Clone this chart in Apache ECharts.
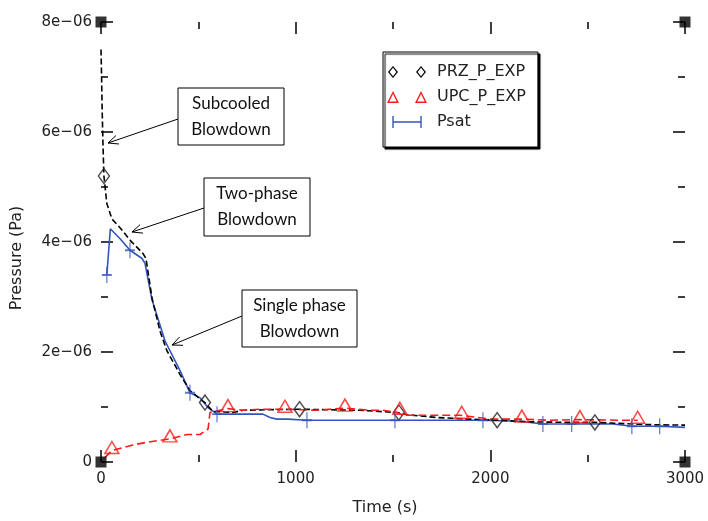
<!DOCTYPE html>
<html>
<head>
<meta charset="utf-8">
<script src="https://cdn.jsdelivr.net/npm/echarts@6/dist/echarts.min.js"></script>
<style>html,body{margin:0;padding:0;background:#fff;}#c{width:708px;height:521px;}</style>
</head>
<body>
<div id="c"></div>
<script>
// ---- data ----
const xTickLabels = ['0', '1000', '2000', '3000'];
const yTickLabels = ['0', '2e\u221206', '4e\u221206', '6e\u221206', '8e\u221206'];

const przTime = [0, 3, 6, 10, 15, 30, 56, 100, 150, 216, 231, 262, 303, 339, 406, 457, 518, 534, 575, 678, 730, 850, 1020, 1160, 1330, 1520, 1570, 1720, 1895, 2033, 2203, 2400, 2537, 2800, 3000];
const przP = [7.5e6, 7.0e6, 6.4e6, 5.8e6, 5.2e6, 4.7e6, 4.42e6, 4.25e6, 4.03e6, 3.79e6, 3.7e6, 2.98e6, 2.38e6, 2.02e6, 1.59e6, 1.30e6, 1.12e6, 1.08e6, 0.92e6, 0.90e6, 0.94e6, 0.95e6, 0.96e6, 0.95e6, 0.94e6, 0.90e6, 0.86e6, 0.81e6, 0.78e6, 0.76e6, 0.73e6, 0.72e6, 0.72e6, 0.68e6, 0.67e6];
const przMarkTime = [15, 534, 1020, 1530, 2035, 2537];
const przMarkP = [5.2e6, 1.08e6, 0.96e6, 0.90e6, 0.76e6, 0.72e6];

const upcTime = [20, 56, 164, 236, 354, 442, 508, 550, 560, 611, 652, 730, 815, 945, 1100, 1253, 1380, 1450, 1520, 1550, 1690, 1845, 2000, 2162, 2300, 2460, 2665, 2757];
const upcP = [0.08e6, 0.21e6, 0.31e6, 0.36e6, 0.42e6, 0.50e6, 0.50e6, 0.60e6, 0.90e6, 0.94e6, 0.97e6, 0.94e6, 0.96e6, 0.96e6, 0.94e6, 0.98e6, 0.94e6, 0.94e6, 0.90e6, 0.85e6, 0.85e6, 0.85e6, 0.78e6, 0.78e6, 0.76e6, 0.77e6, 0.76e6, 0.76e6];
const upcMarkTime = [56, 354, 652, 945, 1253, 1535, 1853, 2162, 2460, 2757];
const upcMarkP = [0.21e6, 0.42e6, 0.97e6, 0.96e6, 0.98e6, 0.92e6, 0.85e6, 0.78e6, 0.77e6, 0.76e6];

const psatTime = [30, 48, 98, 149, 211, 226, 262, 329, 406, 457, 508, 550, 596, 700, 832, 868, 903, 960, 1058, 1227, 1510, 1587, 1962, 2150, 2270, 2418, 2630, 2727, 2870, 3000];
const psatP = [3.4e6, 4.24e6, 4.06e6, 3.85e6, 3.70e6, 3.61e6, 2.95e6, 2.20e6, 1.66e6, 1.26e6, 1.17e6, 0.99e6, 0.87e6, 0.87e6, 0.87e6, 0.81e6, 0.78e6, 0.78e6, 0.76e6, 0.76e6, 0.76e6, 0.76e6, 0.76e6, 0.74e6, 0.69e6, 0.69e6, 0.69e6, 0.65e6, 0.65e6, 0.63e6];
const psatMarkTime = [30, 149, 457, 596, 1058, 1510, 1962, 2270, 2418, 2727, 2870];
const psatMarkP = [3.4e6, 3.85e6, 1.26e6, 0.87e6, 0.76e6, 0.76e6, 0.76e6, 0.69e6, 0.69e6, 0.65e6, 0.65e6];

const cornerTime = [0, 3000, 0, 3000];
const cornerP = [0, 0, 8e6, 8e6];

// ---- helpers ----
const pairs = (a, b) => a.map((v, i) => [v, b[i]]);
const FONT = 'DejaVu Sans';
const BLACK = '#000000', RED = '#ff1a1a', BLUE = '#3355bb';
const plusPath = 'path://M44,0H56V44H100V56H56V100H44V56H0V44H44Z';

// legend icons (two markers)
const iconDiamonds = 'path://M6,0L11,6L6,12L1,6ZM6,1.8L2.6,6L6,10.2L9.4,6ZM34,0L39,6L34,12L29,6ZM34,1.8L30.6,6L34,10.2L37.4,6Z';
const iconTriangles = 'path://M6,0L12,12L0,12ZM6,3L2.3,10.6L9.7,10.6ZM34,0L40,12L28,12ZM34,3L30.3,10.6L37.7,10.6Z';
const iconPlus = 'path://M5.3,0H6.7V5.3H33.3V0H34.7V12H33.3V6.7H6.7V12H5.3Z';

const chart = echarts.init(document.getElementById('c'), null, {renderer: 'canvas'});

function arrow(x0, y0, x1, y1) {
  const ang = Math.atan2(y1 - y0, x1 - x0);
  const L = 11, a = 0.42;
  const p1 = [x1 - L * Math.cos(ang - a), y1 - L * Math.sin(ang - a)];
  const p2 = [x1 - L * Math.cos(ang + a), y1 - L * Math.sin(ang + a)];
  return [
    {type: 'line', z: 100, shape: {x1: x0, y1: y0, x2: x1, y2: y1}, style: {stroke: '#000', lineWidth: 1}},
    {type: 'polyline', z: 100, shape: {points: [p1, [x1, y1], p2]}, style: {stroke: '#000', lineWidth: 1, fill: null}}
  ];
}
function box(x, y, w, h, txt) {
  return [
    {type: 'rect', z: 100, shape: {x: x, y: y, width: w, height: h}, style: {fill: '#fff', stroke: '#000', lineWidth: 1}},
    {type: 'text', z: 101, x: x + w / 2, y: y + h / 2, style: {text: txt, fill: '#111', font: '17px Lato', lineHeight: 26, align: 'center', verticalAlign: 'middle'}}
  ];
}

const graphics = [].concat(
  arrow(178, 119, 108, 143), box(178, 88, 106, 57, 'Subcooled\nBlowdown'),
  arrow(204, 208, 132, 232), box(204, 178, 106, 58, 'Two-phase\nBlowdown'),
  arrow(242, 316, 172, 345), box(242, 290, 115, 57, 'Single phase\nBlowdown')
);

const tickCommon = {show: true, inside: true, length: 12, lineStyle: {color: '#000', width: 1.5}};
const minorCommon = {show: true, splitNumber: 2, length: 7, lineStyle: {color: '#000', width: 1.5}};
const noLine = {show: false, onZero: false};

const option = {
  animation: false,
  backgroundColor: '#fff',
  grid: {left: 101, right: 23, top: 22, bottom: 56},
  legend: {
    orient: 'vertical', left: 383, top: 52,
    data: [
      {name: 'PRZ_P_EXP', icon: iconDiamonds, itemStyle: {color: BLACK, borderWidth: 0}},
      {name: 'UPC_P_EXP', icon: iconTriangles, itemStyle: {color: RED, borderWidth: 0}},
      {name: 'Psat', icon: iconPlus, itemStyle: {color: BLUE, borderWidth: 0}}
    ],
    itemWidth: 40, itemHeight: 12, itemGap: 9,
    padding: [12, 12, 17, 4],
    backgroundColor: '#fff', borderColor: '#000', borderWidth: 1,
    shadowColor: '#000', shadowOffsetX: 2, shadowOffsetY: 2, shadowBlur: 1,
    textStyle: {fontFamily: FONT, fontSize: 16, color: '#222', padding: [0, 0, 0, 5]},
    selectedMode: false
  },
  xAxis: [{
    type: 'value', min: 0, max: 3000, interval: 1000,
    name: 'Time (s)', nameLocation: 'middle', nameGap: 38,
    nameTextStyle: {fontFamily: FONT, fontSize: 16, color: '#222', padding: [0, 16, 0, 0]},
    axisLine: noLine, splitLine: {show: false},
    axisTick: tickCommon, minorTick: minorCommon,
    axisLabel: {fontFamily: FONT, fontSize: 15, color: '#222', margin: 10,
      formatter: v => xTickLabels[Math.round(v / 1000)]}
  }, {
    type: 'value', position: 'top', min: 0, max: 3000, interval: 1000,
    axisLine: noLine, splitLine: {show: false},
    axisTick: tickCommon, minorTick: minorCommon, axisLabel: {show: false}
  }],
  yAxis: [{
    type: 'value', min: 0, max: 8e6, interval: 2e6,
    name: 'Pressure (Pa)', nameLocation: 'middle', nameGap: 76,
    nameTextStyle: {fontFamily: FONT, fontSize: 16, color: '#222', padding: [0, 32, 0, 0]},
    axisLine: noLine, splitLine: {show: false},
    axisTick: tickCommon, minorTick: minorCommon,
    axisLabel: {fontFamily: FONT, fontSize: 15, color: '#222', margin: 9,
      formatter: v => yTickLabels[Math.round(v / 2e6)]}
  }, {
    type: 'value', position: 'right', min: 0, max: 8e6, interval: 2e6,
    axisLine: noLine, splitLine: {show: false},
    axisTick: tickCommon, minorTick: minorCommon, axisLabel: {show: false}
  }],
  series: [
    {name: 'PRZ_P_EXP', type: 'line', data: pairs(przTime, przP), symbol: 'none', z: 3,
      lineStyle: {color: BLACK, width: 1.6, type: [6, 3]}, itemStyle: {color: BLACK}},
    {name: 'UPC_P_EXP', type: 'line', data: pairs(upcTime, upcP), symbol: 'none', z: 4,
      lineStyle: {color: RED, width: 1.6, type: [8, 4]}, itemStyle: {color: RED}},
    {name: 'Psat', type: 'line', data: pairs(psatTime, psatP), symbol: 'none', z: 2,
      lineStyle: {color: BLUE, width: 1.6}, itemStyle: {color: BLUE}},
    {name: 'PRZ_P_EXP', type: 'scatter', data: pairs(przMarkTime, przMarkP), symbol: 'diamond', symbolSize: [11, 15], z: 5,
      itemStyle: {color: 'rgba(255,255,255,0)', borderColor: '#222', borderWidth: 1.5}},
    {name: 'UPC_P_EXP', type: 'scatter', data: pairs(upcMarkTime, upcMarkP), symbol: 'triangle', symbolSize: [14, 12], symbolOffset: [0, -3], z: 5,
      itemStyle: {color: 'rgba(255,255,255,0)', borderColor: RED, borderWidth: 1.5}},
    {name: 'Psat', type: 'scatter', data: pairs(psatMarkTime, psatMarkP), symbol: plusPath, symbolSize: [10, 16], z: 5,
      itemStyle: {color: BLUE}},
    {name: 'corners', type: 'scatter', data: pairs(cornerTime, cornerP), symbol: 'rect', symbolSize: 11, clip: false, z: 6,
      itemStyle: {color: '#000'}}
  ],
  graphic: graphics
};
chart.setOption(option);
</script>
</body>
</html>
